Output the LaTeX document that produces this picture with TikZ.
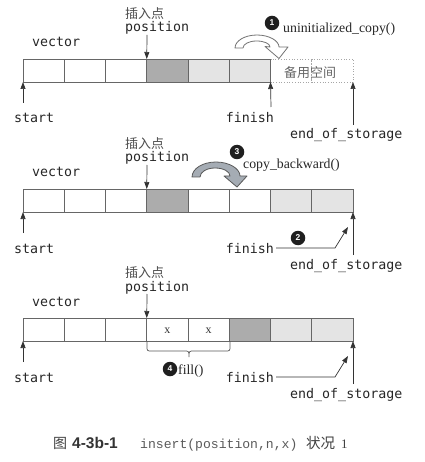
\documentclass[tikz,border=0pt]{standalone}
\usepackage{fontspec}
\setmainfont{Liberation Serif}
\newfontfamily\lblmono{DejaVu Sans Mono}
\newfontfamily\capmono{Liberation Mono}
\newfontfamily\cjk{Noto Sans CJK SC}
\newfontfamily\capsans{Liberation Sans}
\usetikzlibrary{arrows.meta}
\definecolor{darkc}{RGB}{172,172,172}
\definecolor{lightc}{RGB}{228,228,228}
\definecolor{arrowc}{RGB}{165,172,180}
% ---------- common labels ----------
\newcommand\commonlabels[1]{%
  \node[lbl] (#1vec) at (32,47) {vector};
  \node[cjklbl, anchor=west] (#1ins) at (125,14) {插入点};
  \node[lbl] (#1pos) at (125,32) {position};
  \coordinate (#1posT) at (147,35);
  \draw[ptr] (#1posT) -- (#1c3.north west);
  \node[lbl] (#1start) at (14,123) {start};
  \coordinate (#1startT) at (23,103);
  \draw[ptr] (#1startT) -- (#1c0.south west);
  \node[lbl] (#1end) at (290,139) {end\_of\_storage};
  \coordinate (#1endT) at (353,125);
  \draw[ptr] (#1endT) -- (#1c7.south east);
}
\begin{document}
\begin{tikzpicture}[x=1pt,y=-1pt,
  cell/.style={draw=black!60, line width=0.7pt, minimum width=41.25pt, minimum height=23pt, inner sep=0pt, outer sep=0pt, anchor=north west},
  lbl/.style={font=\lblmono\fontsize{13.3}{14}\selectfont, text=black!85, inner sep=0pt, anchor=base west},
  ptr/.style={draw=black!80, line width=0.7pt, -{Triangle[length=7pt,width=5pt]}},
  num/.style={circle, fill=black!88, text=white, inner sep=0pt, minimum size=14.5pt, font=\capsans\bfseries\fontsize{8.5}{8.5}\selectfont},
  fn/.style={font=\fontsize{13.8}{14}\selectfont, inner sep=0pt, anchor=base west, text=black!85},
  cjklbl/.style={font=\cjk\fontsize{13}{14}\selectfont, text=black!70, inner sep=0pt},
  bigarrow/.style={line width=0.8pt, line join=round}
]
\useasboundingbox (0,0) rectangle (424,462);

% ================= Panel 1 =================
\begin{scope}
  \foreach \i in {6,7}
    \node[cell, draw=black!35, dotted] (pAc\i) at (23+41.25*\i,59) {};
  \foreach \i/\f in {0/white,1/white,2/white,3/darkc,4/lightc,5/lightc}
    \node[cell, fill=\f] (pAc\i) at (23+41.25*\i,59) {};
  \node[cjklbl, text=black!60] (pAspare) at (310,73) {备用空间};
  \commonlabels{pA}
  \node[lbl, anchor=base east] (pAfin) at (274,123) {finish};
  \coordinate (pAfinT) at (271,107);
  \draw[ptr] (pAfinT) -- (pAc6.south west);
  \draw[bigarrow, draw=black!55, fill=white]
    (235,48) .. controls (235,40.8) and (244.85,35) .. (257,35)
    .. controls (269.15,35) and (279,40.8) .. (279,47)
    -- (288,47) -- (279,58.5) -- (265,46.5) -- (270,47)
    .. controls (270,43.5) and (263.96,41) .. (256.5,41)
    .. controls (249.04,41) and (243,44.1) .. (243,48) -- cycle;
  \node[num] (pAn1) at (272,23) {1};
  \node[fn] (pAfn) at (283,33) {uninitialized\_copy()};
\end{scope}

% ================= Panel 2 =================
\begin{scope}[yshift=-130pt]
  \foreach \i/\f in {0/white,1/white,2/white,3/darkc,4/white,5/white,6/lightc,7/lightc}
    \node[cell, fill=\f] (pBc\i) at (23+41.25*\i,59) {};
  \commonlabels{pB}
  \node[lbl, anchor=base east] (pBfin) at (274,123) {finish};
  \coordinate (pBfinK) at (335,118);
  \coordinate (pBfinT) at (348,97);
  \draw[ptr, shorten <=2pt] (pBfin.east) -- (pBfinK) -- (pBfinT);
  \node[num] (pBn2) at (298,108) {2};
  \draw[bigarrow, draw=black!65, fill=arrowc]
    (192,47) .. controls (192,38.7) and (202.7,32) .. (216,32)
    .. controls (229.3,32) and (240,38.7) .. (240,46)
    -- (247,46) -- (237,57) -- (224,46) -- (230,46)
    .. controls (230,41.5) and (223.3,38) .. (215,38)
    .. controls (206.7,38) and (200,42) .. (200,47) -- cycle;
  \node[num] (pBn3) at (237,22) {3};
  \node[fn] (pBfn) at (243,39) {copy\_backward()};
\end{scope}

% ================= Panel 3 =================
\begin{scope}[yshift=-259pt]
  \foreach \i/\f in {0/white,1/white,2/white,3/white,4/white,5/darkc,6/lightc,7/lightc}
    \node[cell, fill=\f] (pCc\i) at (23+41.25*\i,59) {};
  \node[font=\fontsize{12}{12}\selectfont, text=black!80, inner sep=0pt, yshift=-1.5pt] (pCx1) at (pCc3.center) {x};
  \node[font=\fontsize{12}{12}\selectfont, text=black!80, inner sep=0pt, yshift=-1.5pt] (pCx2) at (pCc4.center) {x};
  \commonlabels{pC}
  \node[lbl, anchor=base east] (pCfin) at (274,123) {finish};
  \coordinate (pCfinK) at (335,118);
  \coordinate (pCfinT) at (348,97);
  \draw[ptr, shorten <=2pt] (pCfin.east) -- (pCfinK) -- (pCfinT);
  \draw[draw=black!65, line width=0.7pt]
    (147,82) -- (147,87) .. controls (147,92) .. (152,92) -- (184,92)
    .. controls (189,92) .. (189,98) .. controls (189,92) .. (194,92)
    -- (225,92) .. controls (230,92) .. (230,87) -- (230,82);
  \node[num] (pCn4) at (170,110) {4};
  \node[fn] (pCfn) at (178,115) {fill()};
\end{scope}

% ================= Caption =================
\node[font=\cjk\fontsize{14}{15}\selectfont, text=black!75, inner sep=0pt, anchor=base west] (capA) at (53,448) {图};
\node[font=\capsans\bfseries\fontsize{15.5}{16}\selectfont, text=black!80, inner sep=0pt, anchor=base west] (capB) at (72,448) {4-3b-1};
\node[font=\capmono\fontsize{13.1}{14}\selectfont, text=black!65, inner sep=0pt, anchor=base west] (capC) at (140,448) {insert(position,n,x)};
\node[font=\cjk\fontsize{14.5}{15}\selectfont, text=black!75, inner sep=0pt, anchor=base west] (capD) at (306,448) {状况};
\node[font=\fontsize{13}{14}\selectfont, text=black!75, inner sep=0pt, anchor=base west] (capE) at (341,448) {1};
\end{tikzpicture}
\end{document}
